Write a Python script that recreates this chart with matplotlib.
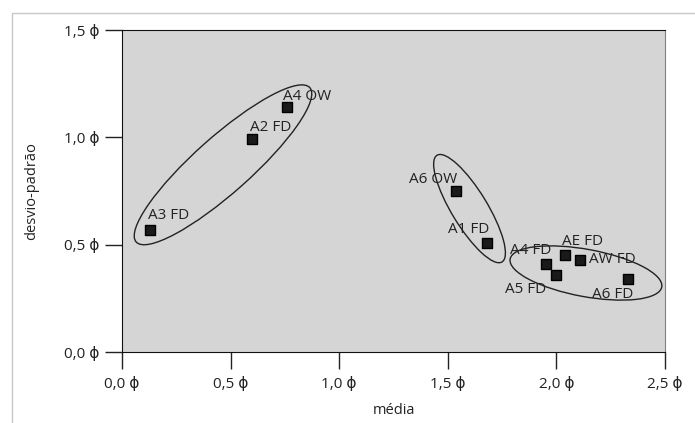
import matplotlib
matplotlib.use("Agg")
import matplotlib.pyplot as plt
from matplotlib.patches import Ellipse, Rectangle

plt.rcParams['font.family'] = ['Open Sans', 'DejaVu Sans']

# amostras: média e desvio-padrão (phi)
amostras = ["A3 FD", "A2 FD", "A4 OW", "A6 OW", "A1 FD",
            "A4 FD", "A5 FD", "AE FD", "AW FD", "A6 FD"]
media = [0.13, 0.60, 0.76, 1.54, 1.68, 1.95, 2.00, 2.04, 2.11, 2.33]
desvio = [0.57, 0.99, 1.14, 0.75, 0.51, 0.41, 0.36, 0.45, 0.43, 0.34]

# deslocamento dos rótulos em pixels
offsets = [(18, 14), (18, 12), (20, 11), (-23, 12), (-18, 13),
           (-15, 13), (-31, -15), (17, 14), (32, 0), (-15, -15)]

# grupos: centro (x, y), largura, altura, ângulo
grupos = [((0.465, 0.872), 1.075, 0.26, 42),
          ((1.60, 0.668), 0.58, 0.165, -59),
          ((2.136, 0.368), 0.71, 0.22, -10.6)]

ticks_x = [0.0, 0.5, 1.0, 1.5, 2.0, 2.5]
ticks_y = [0.0, 0.5, 1.0, 1.5]

fig = plt.figure(figsize=(6.95, 4.23), dpi=100)
fig.patches.append(Rectangle((12 / 695, -0.1), 1.0, 1.1 - 13 / 423, transform=fig.transFigure,
                             fill=False, edgecolor='#c8c8c8', linewidth=1.0))
ax = fig.add_axes([122 / 695, 1 - 352 / 423, 543 / 695, 322 / 423])
ax.set_facecolor('#d5d5d5')

ax.scatter(media, desvio, marker='s', s=60, color='#1a1a1a', edgecolor='#000000', zorder=3)
for nome, x, y, off in zip(amostras, media, desvio, offsets):
    ax.annotate(nome, (x, y), xytext=off, textcoords='offset pixels',
                ha='center', va='center', fontsize=11, color='#222222', zorder=4)

for centro, w, h, ang in grupos:
    ax.add_patch(Ellipse(centro, w, h, angle=ang, fill=False, edgecolor='#222222', linewidth=1.0))

ax.set_xlim(0, 2.5)
ax.set_ylim(0, 1.5)
ax.set_xticks(ticks_x)
ax.set_yticks(ticks_y)
ax.set_xticklabels([f"{t:.1f} ϕ".replace('.', ',') for t in ticks_x])
ax.set_yticklabels([f"{t:.1f} ϕ".replace('.', ',') for t in ticks_y])
ax.tick_params(axis='both', length=12, width=1, direction='out', labelsize=11,
               colors='#222222', pad=4)
ax.tick_params(axis='x', pad=6)

for s in ['left', 'bottom', 'top']:
    ax.spines[s].set_color('#111111')
ax.spines['right'].set_color('#808080')

ax.set_xlabel('média', fontsize=10.5, color='#222222', labelpad=8)
ax.set_ylabel('desvio-padrão', fontsize=10.5, color='#222222', labelpad=18)

fig.savefig('out.png', dpi=100)
